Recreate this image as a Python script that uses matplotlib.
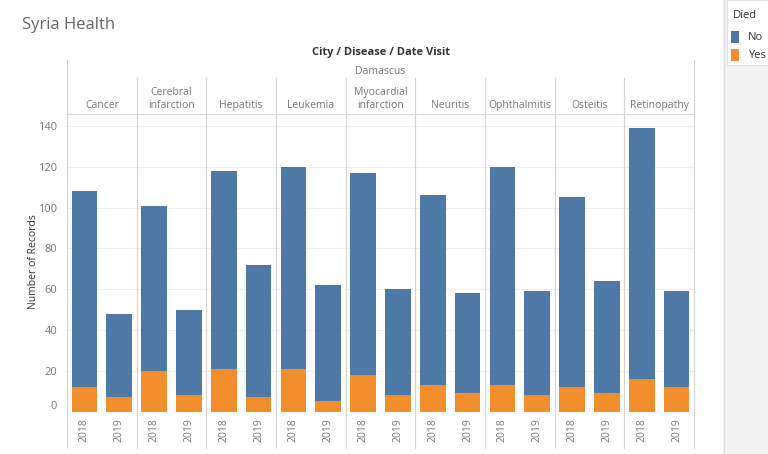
"""Syria Health: records per disease and visit year, stacked by outcome."""

import matplotlib.pyplot as plt
from matplotlib.lines import Line2D
from matplotlib.patches import Rectangle
from matplotlib.transforms import blended_transform_factory

plt.rcParams['font.family'] = ['Open Sans', 'DejaVu Sans']

# ---- Data ----
diseases = ['Cancer', 'Cerebral\ninfarction', 'Hepatitis', 'Leukemia',
            'Myocardial\ninfarction', 'Neuritis', 'Ophthalmitis', 'Osteitis',
            'Retinopathy']
years = ['2018', '2019']
died_yes_2018 = [12, 20, 21, 21, 18, 13, 13, 12, 16]
died_yes_2019 = [7, 8, 7, 5, 8, 9, 8, 9, 12]
died_no_2018 = [96, 81, 97, 99, 99, 93, 107, 93, 123]
died_no_2019 = [41, 42, 65, 57, 52, 49, 51, 55, 47]
y_ticks = [0, 20, 40, 60, 80, 100, 120, 140]

# ---- Colors ----
C_NO = '#4e79a7'
C_YES = '#f28e2b'
C_LINE = '#d4d4d4'
C_GRID = '#f0f0f0'
C_LABEL = '#777777'
C_DARK = '#333333'

W, H = 768, 454


def fx(px):
    return px / W


def fy(py):
    return 1 - py / H


fig = plt.figure(figsize=(W / 100, H / 100), dpi=100)
fig.patch.set_facecolor('white')

# right-hand legend panel
fig.add_artist(Rectangle((fx(723), 0), fx(W - 723), 1, transform=fig.transFigure,
                         facecolor='#f4f4f4', edgecolor='none'))
fig.add_artist(Line2D([fx(723.5), fx(723.5)], [0, 1], transform=fig.transFigure,
                      color='#dddddd', lw=0.8))
fig.add_artist(Rectangle((fx(727), fy(65)), fx(W - 727), fy(0) - fy(65),
                         transform=fig.transFigure, facecolor='white',
                         edgecolor='#e2e2e2', lw=0.8))
fig.text(fx(733), fy(15), 'Died', fontsize=8, color=C_DARK, va='center')
for i, (col, lab) in enumerate([(C_NO, 'No'), (C_YES, 'Yes')]):
    yc = 37 + i * 18
    fig.add_artist(Rectangle((fx(731), fy(yc + 6)), fx(8), fy(0) - fy(12),
                             transform=fig.transFigure, facecolor=col, edgecolor='none'))
    fig.text(fx(748), fy(yc), lab, fontsize=8, color=C_DARK, va='center')

# ---- Bars ----
ax = fig.add_axes([fx(67), fy(411.7), fx(694 - 67), fy(113) - fy(411.7)])
ax.set_xlim(-0.5, 2 * len(diseases) - 0.5)
ax.set_ylim(0, 146.4)

groups = [(died_yes_2018, died_no_2018), (died_yes_2019, died_no_2019)]
xpos = []
for j, (yes, no) in enumerate(groups):
    xs = [2 * i + j for i in range(len(diseases))]
    xpos += xs
    ax.bar(xs, yes, width=0.74, color=C_YES, zorder=3)
    ax.bar(xs, no, bottom=yes, width=0.74, color=C_NO, zorder=3)

ax.set_yticks(y_ticks)
ax.set_yticklabels([str(v) for v in y_ticks])
ax.yaxis.grid(True, color=C_GRID, lw=0.8, zorder=0)
ax.tick_params(axis='y', length=0, pad=7, labelsize=8, labelcolor=C_LABEL)
ax.get_yticklabels()[0].set_va('bottom')

ax.set_xticks(sorted(xpos))
ax.set_xticklabels(years * len(diseases), rotation=90)
ax.tick_params(axis='x', length=0, pad=5, labelsize=7.5, labelcolor=C_LABEL)
for s in ax.spines.values():
    s.set_visible(False)
ax.axhline(0, color=C_LINE, lw=0.8, zorder=4)
fig.text(fx(33), fy(262), 'Number of Records', rotation=90, ha='center', va='center',
         fontsize=7.5, color=C_DARK)

# ---- Pane borders and headers ----
trans = blended_transform_factory(ax.transData, fig.transFigure)
n = 2 * len(diseases)
for xb in (-0.5, n - 0.5):
    fig.add_artist(Line2D([xb, xb], [fy(60), fy(448)], transform=trans,
                          color=C_LINE, lw=0.8))
for i in range(1, len(diseases)):
    xb = 2 * i - 0.5
    fig.add_artist(Line2D([xb, xb], [fy(78), fy(448)], transform=trans,
                          color=C_LINE, lw=0.8))
fig.add_artist(Line2D([-0.5, n - 0.5], [fy(113.5), fy(113.5)], transform=trans,
                      color=C_LINE, lw=0.8))

for i, d in enumerate(diseases):
    fig.text(2 * i + 0.5, fy(111), d, transform=trans, ha='center', va='bottom',
             fontsize=7.5, color=C_LABEL, linespacing=1.3)

mid = (n - 1) / 2
fig.text(mid, fy(53), 'City / Disease / Date Visit', transform=trans, ha='center',
         va='center', fontsize=8, fontweight='bold', color=C_DARK)
fig.text(mid, fy(71), 'Damascus', transform=trans, ha='center', va='center',
         fontsize=7.5, color=C_LABEL)

fig.text(fx(22), fy(25), 'Syria Health', fontsize=12, color='#666666', va='center')

fig.savefig('out.png', dpi=100, facecolor='white')
